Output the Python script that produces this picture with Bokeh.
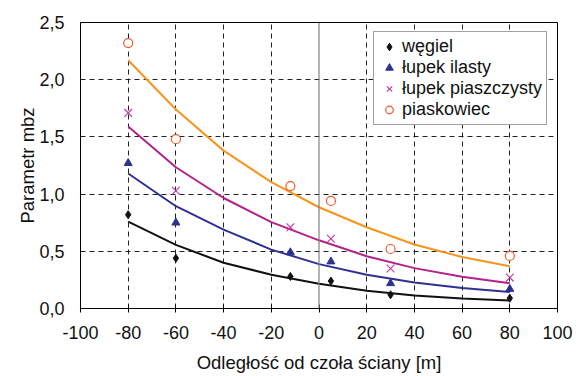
from bokeh.plotting import figure
from bokeh.models import (ColumnDataSource, Span, FixedTicker, Legend, LegendItem,
                          CustomJSTickFormatter, Range1d)
from bokeh.embed import file_html
from bokeh.resources import INLINE

# measured points
pts_x = [-80, -60, -12, 5, 30, 80]
wegiel = [0.82, 0.44, 0.28, 0.24, 0.12, 0.09]
lupek_ilasty = [1.27, 0.75, 0.49, 0.41, 0.22, 0.17]
lupek_piasz = [1.71, 1.03, 0.71, 0.61, 0.35, 0.27]
piaskowiec = [2.32, 1.48, 1.07, 0.94, 0.52, 0.46]

# fitted curves
fit_x = [-80, -60, -40, -20, 0, 20, 40, 60, 80]
fit_wegiel = [0.76, 0.556, 0.40, 0.295, 0.216, 0.156, 0.113, 0.087, 0.07]
fit_ilasty = [1.18, 0.894, 0.69, 0.515, 0.388, 0.295, 0.228, 0.18, 0.145]
fit_piasz = [1.59, 1.235, 0.966, 0.755, 0.596, 0.457, 0.353, 0.278, 0.22]
fit_piask = [2.17, 1.74, 1.38, 1.105, 0.885, 0.71, 0.56, 0.45, 0.37]

labels = ["węgiel", "łupek ilasty", "łupek piaszczysty", "piaskowiec"]
x_ticks = [-100, -80, -60, -40, -20, 0, 20, 40, 60, 80, 100]
y_ticks = [0, 0.5, 1.0, 1.5, 2.0, 2.5]
x_title = "Odległość od czoła ściany [m]"
y_title = "Parametr mbz"

FONT = "Liberation Sans"

p = figure(width=576, height=376, output_backend="svg", toolbar_location=None,
           x_range=Range1d(-100, 100), y_range=Range1d(0, 2.5),
           min_border_left=80, min_border_right=19, min_border_top=22, min_border_bottom=68)
p.background_fill_color = "white"
p.border_fill_color = "white"
p.outline_line_color = "black"
p.outline_line_width = 1

# grids
p.xgrid.ticker = FixedTicker(ticks=[t for t in x_ticks if t != 0])
p.ygrid.ticker = FixedTicker(ticks=y_ticks)
for g in (p.xgrid, p.ygrid):
    g.grid_line_color = "#222222"
    g.grid_line_dash = "5 4"
    g.grid_line_width = 1
p.add_layout(Span(location=0, dimension="height", line_color="#808080", line_width=1.2))

# axes
p.xaxis.ticker = FixedTicker(ticks=x_ticks)
p.yaxis.ticker = FixedTicker(ticks=y_ticks)
p.xaxis.formatter = CustomJSTickFormatter(code="return String(Math.round(tick));")
p.yaxis.formatter = CustomJSTickFormatter(code="return tick.toFixed(1).replace('.', ',');")
for ax in (p.xaxis, p.yaxis):
    ax.axis_line_color = "black"
    ax.major_label_text_font = FONT
    ax.major_label_text_font_size = "18px"
    ax.major_label_text_color = "#111111"
    ax.axis_label_text_font = FONT
    ax.axis_label_text_font_size = "18.5px"
    ax.axis_label_text_font_style = "normal"
    ax.axis_label_text_color = "#111111"
    ax.minor_tick_line_color = None
p.xaxis.major_tick_in = 4
p.xaxis.major_tick_out = 4
p.xaxis.major_tick_line_color = "black"
p.yaxis.major_tick_line_color = None
p.yaxis.major_label_standoff = 10
p.xaxis.major_label_standoff = 13
p.xaxis.axis_label = x_title
p.yaxis.axis_label = y_title
p.xaxis.axis_label_standoff = 10
p.yaxis.axis_label_standoff = -2

colors_line = ["#111111", "#2E3192", "#B3228C", "#F7941D"]
fits = [fit_wegiel, fit_ilasty, fit_piasz, fit_piask]
for ys, c in zip(fits, colors_line):
    p.line(fit_x, ys, line_color=c, line_width=2)

src = ColumnDataSource(dict(x=pts_x, w=wegiel, i=lupek_ilasty, pz=lupek_piasz, pk=piaskowiec))
r1 = p.scatter("x", "w", source=src, marker="diamond", size=8, fill_color="#111111", line_color="#111111")
r2 = p.scatter("x", "i", source=src, marker="triangle", size=8, fill_color="#2E3192", line_color="#2E3192")
r3 = p.scatter("x", "pz", source=src, marker="x", size=11, line_color="#C0399A", line_width=1.1)
r4 = p.scatter("x", "pk", source=src, marker="circle", size=9, fill_color="white", line_color="#F15A29", line_width=1.2)

legend = Legend(items=[LegendItem(label=l, renderers=[r]) for l, r in zip(labels, [r1, r2, r3, r4])],
                location=(293, 183))
legend.label_text_font = FONT
legend.label_text_font_size = "18px"
legend.label_text_color = "#111111"
legend.border_line_color = "#444444"
legend.border_line_width = 1
legend.background_fill_color = "white"
legend.background_fill_alpha = 1
legend.padding = 4
legend.spacing = 0
legend.margin = 0
legend.glyph_width = 22
legend.glyph_height = 19
legend.label_height = 19
legend.label_standoff = 2
legend.label_text_baseline = "middle"
p.add_layout(legend, "center")

open("out.html", "w").write(file_html(p, INLINE))
